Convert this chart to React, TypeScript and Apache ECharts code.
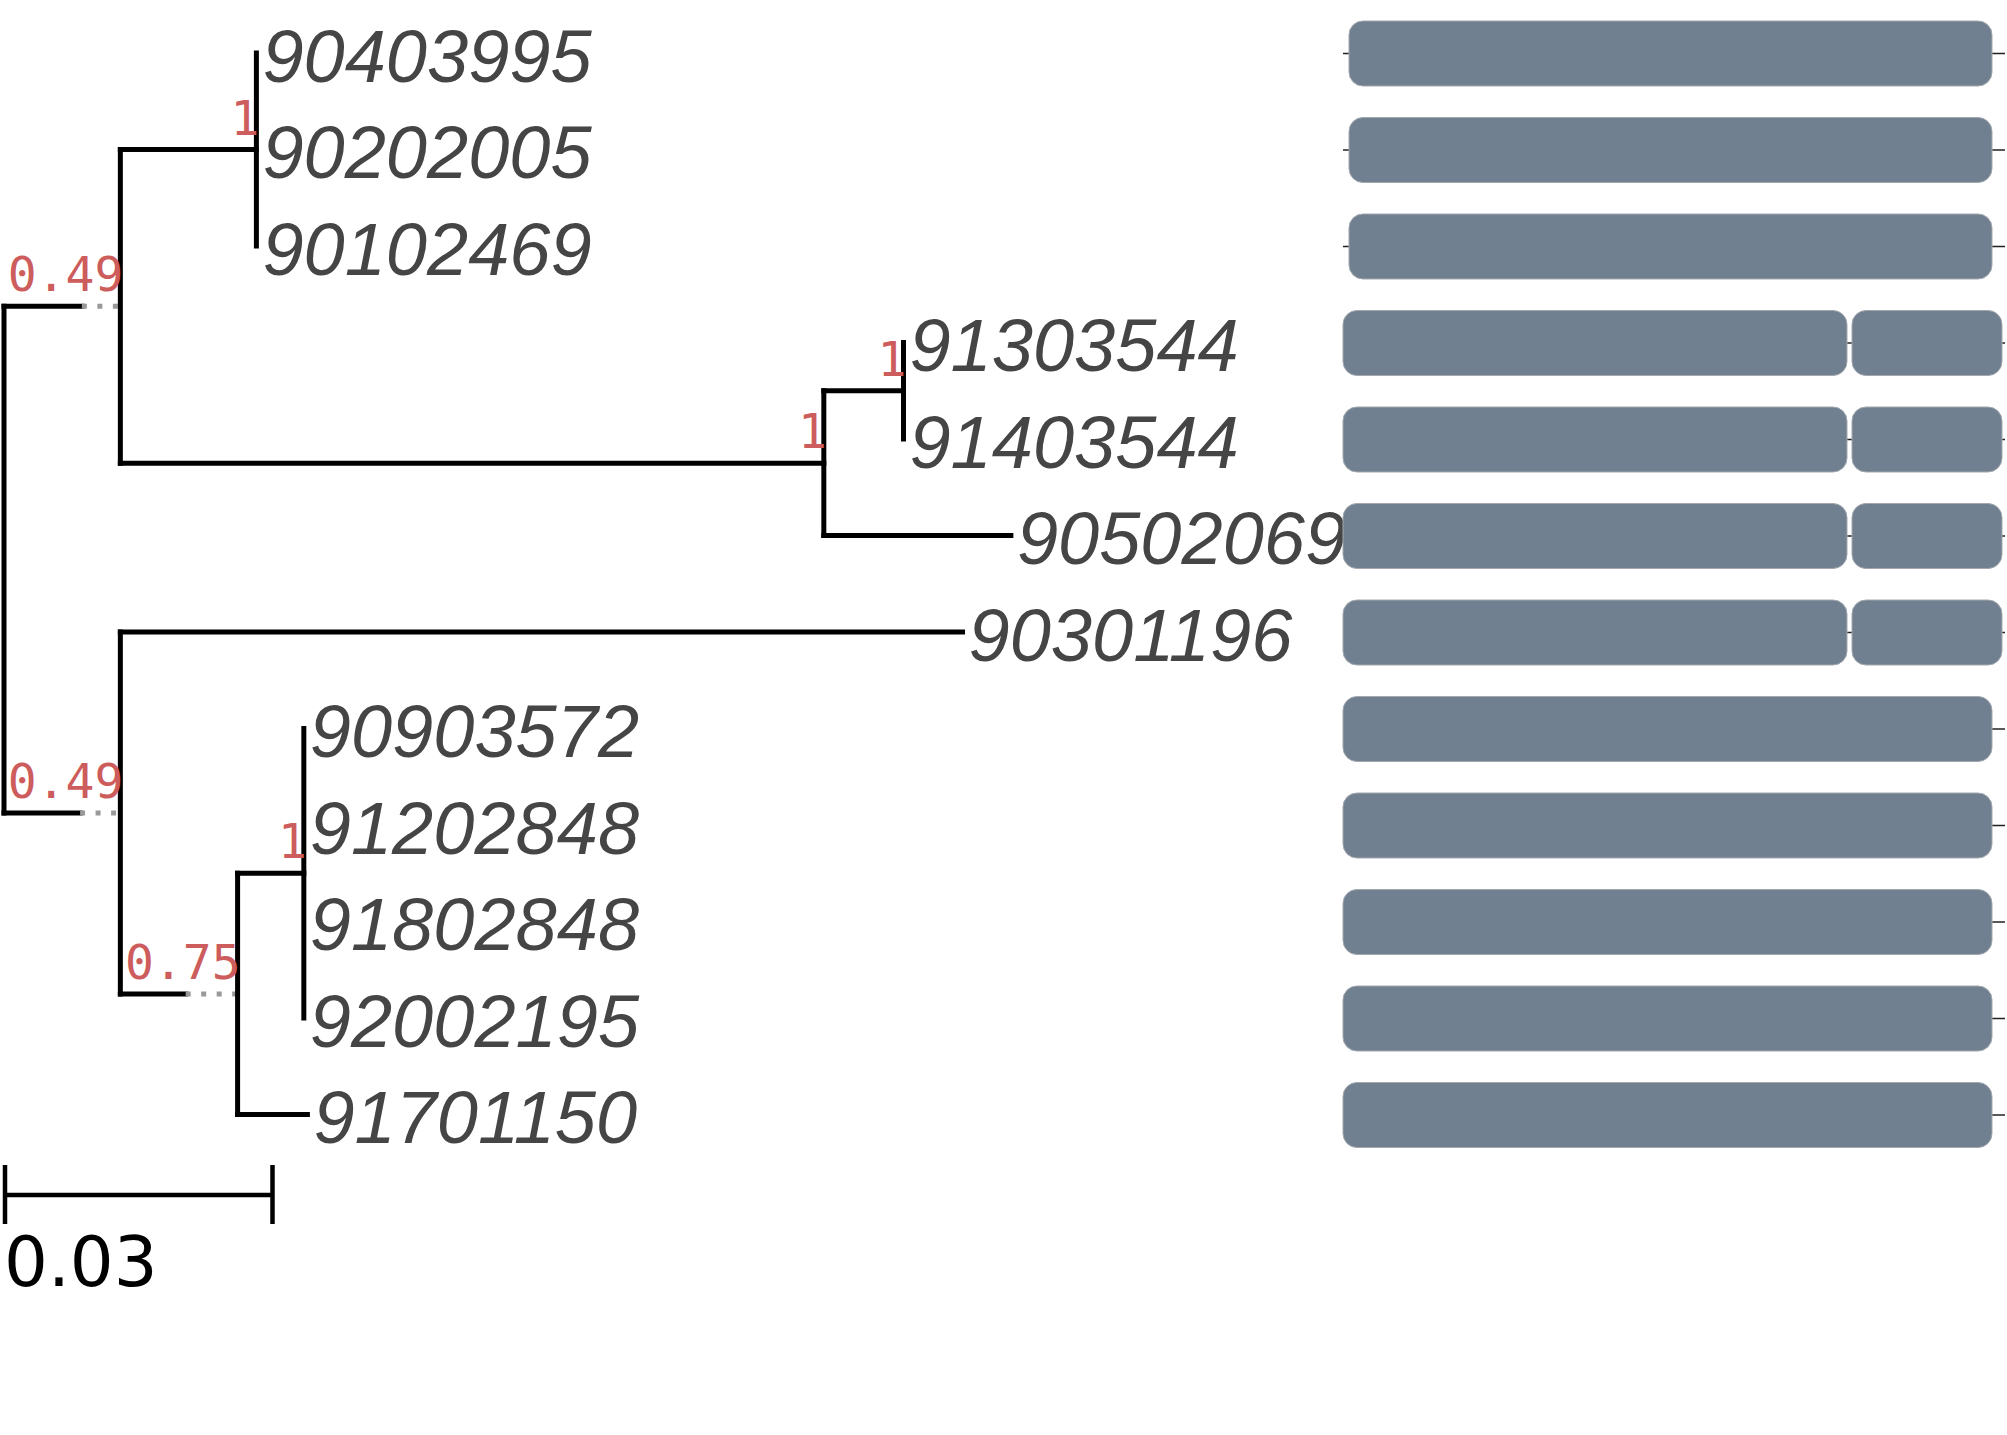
import React, { useEffect, useRef } from 'react';
import * as echarts from 'echarts';

// ---- Tree data ----
const leafNames = ['90403995', '90202005', '90102469', '91303544', '91403544', '90502069', '90301196', '90903572', '91202848', '91802848', '92002195', '91701150'];
const leafParents = ['cA', 'cA', 'cA', 'cB1', 'cB1', 'cB', 'n2', 'cC', 'cC', 'cC', 'cC', 'n3'];
const leafBranchLengths = [0, 0, 0, 0, 0, 0.0209, 0.0941, 0, 0, 0, 0, 0.0078];

const nodeIds = ['root', 'n1', 'cA', 'cB', 'cB1', 'n2', 'n3', 'cC'];
const nodeParents = [null, 'root', 'n1', 'n1', 'cB', 'root', 'n2', 'n3'];
const nodeBranchLengths = [0, 0.0087, 0.0152, 0.0786, 0.0089, 0.0085, 0.0073, 0.0074];
const nodeExtensions = [0, 0.0043, 0, 0, 0, 0.0045, 0.0058, 0];
const nodeSupports = ['', '0.49', '1', '1', '1', '0.49', '0.75', '1'];

const scaleBarLength = 0.03;
const scaleBarLabel = '0.03';

// ---- Domain data ----
const sequenceLength = 662;
const domainRows = [0, 1, 2, 3, 3, 4, 4, 5, 5, 6, 6, 7, 8, 9, 10, 11];
const domainStarts = [6, 6, 6, 0, 509, 0, 509, 0, 509, 0, 509, 0, 0, 0, 0, 0];
const domainEnds = [649, 649, 649, 504, 659, 504, 659, 504, 659, 504, 659, 649, 649, 649, 649, 649];

function layoutTree() {
  const nx: Record<string, number> = {};
  const ny: Record<string, number> = {};
  const idx = (id: string) => nodeIds.indexOf(id);
  const getX = (id: string): number => {
    if (nx[id] !== undefined) return nx[id];
    const i = idx(id);
    const p = nodeParents[i];
    const v = p ? getX(p) + nodeBranchLengths[i] + nodeExtensions[i] : 0;
    nx[id] = v;
    return v;
  };
  nodeIds.forEach((id) => getX(id));
  const leafX = leafNames.map((_, i) => getX(leafParents[i]) + leafBranchLengths[i]);
  const getY = (id: string): number => {
    if (ny[id] !== undefined) return ny[id];
    const ys: number[] = [];
    leafParents.forEach((p, i) => { if (p === id) ys.push(i); });
    nodeParents.forEach((p, i) => { if (p === id) ys.push(getY(nodeIds[i])); });
    const v = (Math.min(...ys) + Math.max(...ys)) / 2;
    ny[id] = v;
    return v;
  };
  nodeIds.forEach((id) => getY(id));
  const segments: number[][] = [];
  nodeIds.forEach((id, i) => {
    const p = nodeParents[i];
    if (!p) return;
    const x0 = nx[p];
    const x1 = x0 + nodeBranchLengths[i];
    segments.push([x0, ny[id], x1, ny[id], 0]);
    if (nodeExtensions[i] > 0) segments.push([x1, ny[id], nx[id], ny[id], 1]);
  });
  leafNames.forEach((_, i) => {
    if (leafBranchLengths[i] > 0) {
      const x0 = nx[leafParents[i]];
      segments.push([x0, i, leafX[i], i, 0]);
    }
  });
  nodeIds.forEach((id) => {
    const ys: number[] = [];
    leafParents.forEach((p, i) => { if (p === id) ys.push(i); });
    nodeParents.forEach((p, i) => { if (p === id) ys.push(ny[nodeIds[i]]); });
    segments.push([nx[id], Math.min(...ys), nx[id], Math.max(...ys), 2]);
  });
  const supports = nodeIds
    .map((id, i) => [nx[id], ny[id], i])
    .filter((d) => nodeSupports[d[2]] !== '');
  const leaves = leafNames.map((_, i) => [leafX[i], i, i]);
  return { segments, supports, leaves };
}

export default function App() {
  const ref = useRef<HTMLDivElement>(null);
  useEffect(() => {
    if (!ref.current) return;
    const chart = echarts.init(ref.current, null, { renderer: 'svg' });
    const { segments, supports, leaves } = layoutTree();
    const rowTop = 4.75;
    const rowH = 96.5;
    const nRows = leafNames.length;

    const option: any = {
      animation: false,
      backgroundColor: '#ffffff',
      grid: [
        { left: 4, top: rowTop, width: 1342.5, height: rowH * nRows },
        { left: 1343, top: rowTop, width: 662, height: rowH * nRows },
      ],
      xAxis: [
        { type: 'value', gridIndex: 0, min: 0, max: 0.15, show: false },
        { type: 'value', gridIndex: 1, min: 0, max: sequenceLength, show: false },
      ],
      yAxis: [
        { type: 'value', gridIndex: 0, min: -0.5, max: nRows - 0.5, inverse: true, show: false },
        { type: 'value', gridIndex: 1, min: -0.5, max: nRows - 0.5, inverse: true, show: false },
      ],
      series: [
        {
          type: 'custom',
          name: 'branches',
          xAxisIndex: 0,
          yAxisIndex: 0,
          clip: false,
          silent: true,
          data: segments,
          encode: { x: [0, 2], y: [1, 3] },
          renderItem: (params: any, api: any) => {
            const p1 = api.coord([api.value(0), api.value(1)]);
            const p2 = api.coord([api.value(2), api.value(3)]);
            const kind = api.value(4);
            return {
              type: 'line',
              shape: { x1: p1[0], y1: p1[1], x2: p2[0], y2: p2[1] },
              style: kind === 1
                ? { stroke: '#999999', lineWidth: 5, lineDash: [5, 10.5], lineCap: 'butt' }
                : { stroke: '#000000', lineWidth: 5, lineCap: 'square' },
            };
          },
        },
        {
          type: 'custom',
          name: 'supports',
          xAxisIndex: 0,
          yAxisIndex: 0,
          clip: false,
          silent: true,
          data: supports,
          encode: { x: 0, y: 1 },
          renderItem: (params: any, api: any) => {
            const p = api.coord([api.value(0), api.value(1)]);
            const i = api.value(2);
            return {
              type: 'text',
              style: {
                text: nodeSupports[i],
                x: p[0] + 3,
                y: p[1] - 32,
                fill: '#cd5c5c',
                fontSize: 48,
                fontFamily: '"DejaVu Sans Mono", monospace',
                align: 'right',
                verticalAlign: 'middle',
              },
            };
          },
        },
        {
          type: 'custom',
          name: 'leaves',
          xAxisIndex: 0,
          yAxisIndex: 0,
          clip: false,
          silent: true,
          data: leaves,
          encode: { x: 0, y: 1 },
          renderItem: (params: any, api: any) => {
            const p = api.coord([api.value(0), api.value(1)]);
            const i = api.value(2);
            return {
              type: 'text',
              style: {
                text: leafNames[i],
                x: p[0] + 6,
                y: p[1] + 3,
                fill: '#454545',
                fontSize: 74,
                fontStyle: 'italic',
                fontFamily: '"Liberation Sans", Arial, sans-serif',
                align: 'left',
                verticalAlign: 'middle',
              },
            };
          },
        },
        {
          type: 'custom',
          name: 'scalebar',
          xAxisIndex: 0,
          yAxisIndex: 0,
          clip: false,
          silent: true,
          data: [[0, scaleBarLength]],
          encode: { x: [0, 1] },
          renderItem: (params: any, api: any) => {
            const xa = api.coord([api.value(0), 0])[0];
            const xb = api.coord([api.value(1), 0])[0];
            const yb = 1195;
            const st = { stroke: '#000000', lineWidth: 4.5 };
            return {
              type: 'group',
              children: [
                { type: 'line', shape: { x1: xa, y1: yb, x2: xb, y2: yb }, style: st },
                { type: 'line', shape: { x1: xa + 1, y1: yb - 30, x2: xa + 1, y2: yb + 29 }, style: st },
                { type: 'line', shape: { x1: xb, y1: yb - 30, x2: xb, y2: yb + 29 }, style: st },
                {
                  type: 'text',
                  style: {
                    text: scaleBarLabel,
                    x: xa,
                    y: 1262,
                    fill: '#000000',
                    fontSize: 69,
                    fontFamily: '"DejaVu Sans", sans-serif',
                    align: 'left',
                    verticalAlign: 'middle',
                  },
                },
              ],
            };
          },
        },
        {
          type: 'custom',
          name: 'backbone',
          xAxisIndex: 1,
          yAxisIndex: 1,
          clip: false,
          silent: true,
          data: leafNames.map((_, i) => [0, sequenceLength, i]),
          encode: { x: [0, 1], y: 2 },
          renderItem: (params: any, api: any) => {
            const p1 = api.coord([api.value(0), api.value(2)]);
            const p2 = api.coord([api.value(1), api.value(2)]);
            return {
              type: 'line',
              shape: { x1: p1[0], y1: p1[1] + 0.5, x2: p2[0], y2: p2[1] + 0.5 },
              style: { stroke: '#222222', lineWidth: 1.3 },
            };
          },
        },
        {
          type: 'custom',
          name: 'domains',
          xAxisIndex: 1,
          yAxisIndex: 1,
          clip: false,
          silent: true,
          z: 3,
          data: domainRows.map((r, i) => [domainStarts[i], domainEnds[i], r]),
          encode: { x: [0, 1], y: 2 },
          renderItem: (params: any, api: any) => {
            const p1 = api.coord([api.value(0), api.value(2)]);
            const p2 = api.coord([api.value(1), api.value(2)]);
            const h = 65;
            return {
              type: 'rect',
              shape: { x: p1[0], y: p1[1] - h / 2 + 0.5, width: p2[0] - p1[0], height: h, r: 14 },
              style: { fill: '#708090', stroke: '#a3a8ae', lineWidth: 1 },
            };
          },
        },
      ],
    };
    chart.setOption(option);
    return () => chart.dispose();
  }, []);
  return (
    <div
      ref={ref}
      style={{ position: 'absolute', left: 0, top: 0, width: 2007, height: 1435, background: '#ffffff' }}
    />
  );
}
